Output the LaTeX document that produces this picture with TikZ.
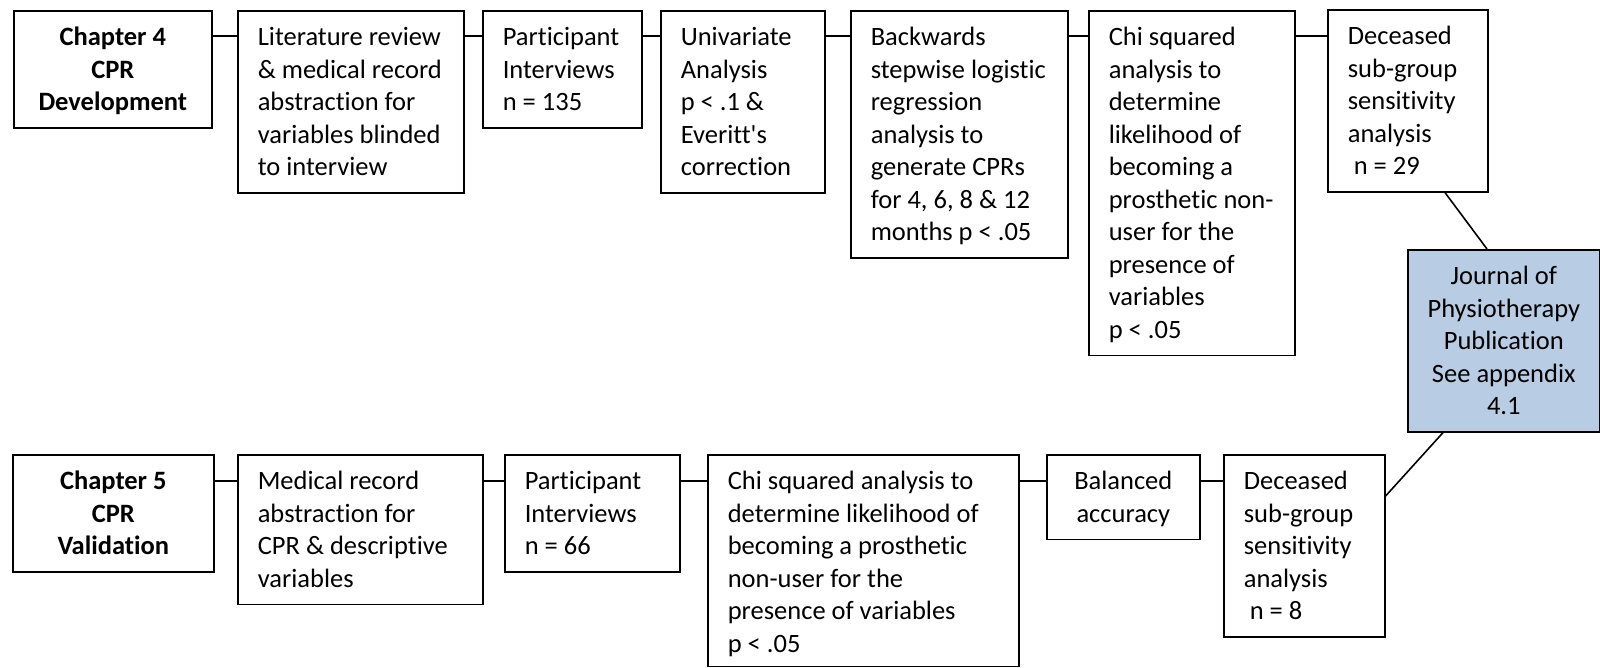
\documentclass[tikz,border=0pt]{standalone}
\usepackage{fontspec}
\setmainfont{Carlito}[Ligatures={NoCommon}]
\usetikzlibrary{calc}
\definecolor{pubblue}{RGB}{184,204,228}

% Box texts: first baseline 35pt below the top edge, lines 32.5pt apart,
% last baseline #1pt above the bottom edge.
\newcommand\lefttext[3][17]{\parbox{#2pt}{\raggedright\leftskip=20pt\relax
  \rule{0pt}{35pt}#3\rule[-#1pt]{0pt}{#1pt}}}
\newcommand\midtext[3][17]{\parbox{#2pt}{\centering
  \rule{0pt}{35pt}#3\rule[-#1pt]{0pt}{#1pt}}}

\tikzset{
  stepbox/.style={draw, line width=1.6pt, inner sep=0pt, anchor=north west,
    font=\fontsize{26.5pt}{32.5pt}\selectfont},
  pubbox/.style={stepbox, fill=pubblue},
  link/.style={line width=1.6pt}
}

\begin{document}
\begin{tikzpicture}[x=1pt,y=-1pt]
\useasboundingbox (0,0) rectangle (1600,668);

% Chapter 4 row
\node[stepbox] (ch4) at (13,10)
  {\midtext{198}{\bfseries Chapter 4\\CPR\\Development}};
\node[stepbox] (lit) at (237,10)
  {\lefttext{226}{Literature review\\\& medical record\\abstraction for\\variables blinded\\to interview}};
\node[stepbox] (partA) at (482,10)
  {\lefttext{159}{Participant\\Interviews\\n = 135}};
\node[stepbox] (uni) at (660,10)
  {\lefttext{164}{Univariate\\Analysis\\p < .1 \&\\Everitt\textquotesingle s\\correction}};
\node[stepbox] (back) at (850,10)
  {\lefttext{217}{Backwards\\stepwise logistic\\regression\\analysis to\\generate CPRs\\for 4, 6, 8 \& 12\\months p < .05}};
\node[stepbox] (chiA) at (1088,10)
  {\lefttext{206}{Chi squared\\analysis to\\determine\\likelihood of\\becoming a\\prosthetic non-\\user for the\\presence of\\variables\\p < .05}};
\node[stepbox] (decA) at (1327,9)
  {\lefttext{160}{Deceased\\sub-group\\sensitivity\\analysis\\\hspace*{6pt}n = 29}};

% Publication box
\node[pubbox] (jour) at (1407,249)
  {\midtext{192}{Journal of\\Physiotherapy\\Publication\\See appendix\\4.1}};

% Chapter 5 row
\node[stepbox] (ch5) at (12,454)
  {\midtext{201}{\bfseries Chapter 5\\CPR\\Validation}};
\node[stepbox] (med) at (237,454)
  {\lefttext{245}{Medical record\\abstraction for\\CPR \& descriptive\\variables}};
\node[stepbox] (partB) at (504,454)
  {\lefttext{175}{Participant\\Interviews\\n = 66}};
\node[stepbox] (chiB) at (707,454)
  {\lefttext[14]{311}{Chi squared analysis to\\determine likelihood of\\becoming a prosthetic\\non-user for the\\presence of variables\\p < .05}};
\node[stepbox] (bal) at (1046,454)
  {\midtext{153}{Balanced\\accuracy}};
\node[stepbox] (decB) at (1223,454)
  {\lefttext{161}{Deceased\\sub-group\\sensitivity\\analysis\\\hspace*{6pt}n = 8}};

% Connector heights of the two rows
\coordinate (r1) at (0,36);
\coordinate (r2) at (0,481);

\draw[link] (ch4.east |- r1) -- (lit.west |- r1);
\draw[link] (lit.east |- r1) -- (partA.west |- r1);
\draw[link] (partA.east |- r1) -- (uni.west |- r1);
\draw[link] (uni.east |- r1) -- (back.west |- r1);
\draw[link] (back.east |- r1) -- (chiA.west |- r1);
\draw[link] (chiA.east |- r1) -- (decA.west |- r1);

\draw[link] (ch5.east |- r2) -- (med.west |- r2);
\draw[link] (med.east |- r2) -- (partB.west |- r2);
\draw[link] (partB.east |- r2) -- (chiB.west |- r2);
\draw[link] (chiB.east |- r2) -- (bal.west |- r2);
\draw[link] (bal.east |- r2) -- (decB.west |- r2);

% Both sensitivity analyses feed the publication
\draw[link] ($(decA.south west)+(118,0)$) -- ($(jour.north west)+(80,0)$);
\draw[link] ($(jour.south west)+(36,0)$) -- ($(decB.north east)+(0,42)$);
\end{tikzpicture}
\end{document}
